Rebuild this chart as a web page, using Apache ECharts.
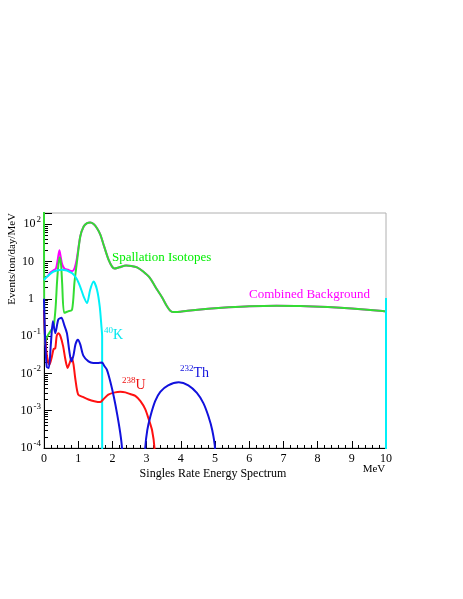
<!DOCTYPE html>
<html>
<head>
<meta charset="utf-8">
<script src="https://cdn.jsdelivr.net/npm/echarts@6/dist/echarts.min.js"></script>
<style>
html, body { margin: 0; padding: 0; background: #fff; }
#chart { width: 463px; height: 599px; }
</style>
</head>
<body>
<div id="chart"></div>
<script>
// energies in MeV, rates in events/ton/day/MeV
var spallE = [0, 0.02, 0.1, 0.2, 0.28, 0.34, 0.38, 0.42, 0.46, 0.5, 0.53, 0.59, 0.7, 0.82, 0.89, 0.96,
    1.06, 1.16, 1.26, 1.35, 1.45, 1.55, 1.65, 1.76, 1.89, 1.99, 2.06, 2.2, 2.4, 2.55, 2.72, 2.9, 3.1, 3.3,
    3.45, 3.6, 3.7, 3.8, 4.2, 4.8, 5.4, 6.0, 6.8, 7.5, 8.3, 9.0, 9.9, 10];
var spallV = [300, 0.06, 0.1, 0.14, 0.18, 0.6, 2.7, 8, 13, 8, 2.7, 0.42, 0.46, 0.51, 2.7, 9.2,
    47, 87, 107, 112, 102, 78, 52, 25, 11, 7.3, 6.5, 7.0, 7.8, 7.6, 7.0, 5.4, 3.6, 1.8,
    1.1, 0.62, 0.47, 0.44, 0.48, 0.54, 0.59, 0.63, 0.65, 0.64, 0.6, 0.55, 0.47, 0.46];

// combined background below 1.06 MeV, above that it follows the spallation curve
var comboLowE = [0, 0.1, 0.18, 0.28, 0.35, 0.4, 0.45, 0.49, 0.53, 0.6, 0.7, 0.82, 0.89, 0.96];
var comboLowV = [3.5, 4.0, 5.0, 5.8, 6.5, 11, 20, 13, 8.5, 6.4, 6.0, 5.5, 6.5, 12];

var kE = [0, 0.1, 0.28, 0.53, 0.82, 0.95, 1.06, 1.16, 1.26, 1.35, 1.45, 1.55, 1.63, 1.68, 1.70, 1.701, 9.99, 10, 10];
var kV = [3.2, 4.0, 5.4, 6.0, 4.9, 3.5, 2.1, 1.15, 0.77, 1.75, 2.9, 1.75, 0.62, 0.18, 0.1, 1e-5, null, 1e-5, 1.05];

var uE = [0, 0.03, 0.09, 0.16, 0.23, 0.28, 0.33, 0.37, 0.42, 0.48, 0.56, 0.62, 0.69, 0.74, 0.81, 0.86, 0.92,
    1.0, 1.15, 1.3, 1.47, 1.64, 1.73, 1.88, 2.08, 2.23, 2.38, 2.52, 2.67, 2.82, 2.96, 3.06, 3.16, 3.23, 3.26];
var uV = [0.5, 0.1, 0.028, 0.017, 0.028, 0.045, 0.047, 0.1, 0.12, 0.1, 0.053, 0.025, 0.014, 0.018, 0.026, 0.018, 0.0067,
    0.0027, 0.0023, 0.002, 0.0018, 0.0017, 0.002, 0.0027, 0.0031, 0.0032, 0.0031, 0.0028, 0.0025, 0.0018, 0.0011, 0.0006, 0.0003, 0.0001, 1e-5];

var thE = [0, 0.03, 0.08, 0.14, 0.2, 0.26, 0.33, 0.42, 0.51, 0.59, 0.67, 0.74, 0.8, 0.86, 0.92, 0.99, 1.06, 1.15,
    1.3, 1.44, 1.56, 1.70, 1.76, 1.84, 1.94, 2.04, 2.14, 2.23, 2.28, 2.31, 2.5,
    2.93, 2.96, 3.02, 3.11, 3.25, 3.4, 3.63, 3.94, 4.22, 4.47, 4.66, 4.81, 4.92, 5.0, 5.03];
var thV = [1.0, 0.1, 0.015, 0.014, 0.06, 0.25, 0.12, 0.28, 0.31, 0.2, 0.12, 0.04, 0.021, 0.03, 0.06, 0.08, 0.06, 0.03,
    0.021, 0.019, 0.019, 0.0195, 0.016, 0.0125, 0.006, 0.0024, 0.0008, 0.00025, 0.0001, 1e-5, null,
    1e-5, 0.0001, 0.0003, 0.0007, 0.0018, 0.0032, 0.0048, 0.0058, 0.0048, 0.003, 0.0016, 0.0007, 0.0003, 0.0001, 1e-5];

function pairs(e, v) {
    return e.map(function (x, i) { return [x, v[i]]; });
}

var comboE = comboLowE.concat(spallE.slice(16));
var comboV = comboLowV.concat(spallV.slice(16));

var serif = 'Liberation Serif';
var myChart = echarts.init(document.getElementById('chart'));

function curve(name, color, e, v) {
    return {
        name: name,
        type: 'line',
        data: pairs(e, v),
        showSymbol: false,
        symbol: 'none',
        smooth: 0.25,
        connectNulls: false,
        clip: true,
        lineStyle: { color: color, width: 2 },
        animation: false
    };
}

var option = {
    animation: false,
    grid: {
        left: 44, right: 77, top: 213, bottom: 151,
        show: true, borderColor: '#b0b0b0', borderWidth: 1
    },
    xAxis: {
        type: 'value',
        min: 0, max: 10, interval: 1,
        axisLine: { show: true, onZero: false, lineStyle: { color: '#000', width: 1 } },
        axisTick: { show: true, inside: true, length: 7, lineStyle: { color: '#000' } },
        minorTick: { show: true, splitNumber: 5, length: 3, lineStyle: { color: '#000' } },
        splitLine: { show: false },
        axisLabel: { color: '#000', fontFamily: serif, fontSize: 12, margin: 5 }
    },
    yAxis: {
        type: 'log',
        logBase: 10,
        min: 0.0001, max: 200,
        axisLine: { show: true, lineStyle: { color: '#000', width: 1 } },
        axisTick: { show: true, inside: true, length: 8, lineStyle: { color: '#000' } },
        minorTick: { show: true, splitNumber: 9, length: 4, lineStyle: { color: '#000' } },
        splitLine: { show: false },
        axisLabel: {
            showMaxLabel: false,
            margin: 3,
            color: '#000', fontFamily: serif, fontSize: 12,
            formatter: function (val) {
                var p = Math.round(Math.log(val) / Math.LN10);
                if (p === 0) return '1{pad|}';
                if (p === 1) return '10{pad|}';
                return '10{sup|' + p + '}';
            },
            rich: {
                sup: { fontSize: 9, fontFamily: serif, color: '#000', padding: [0, 0, 9, 1] },
                pad: { width: 7 }
            }
        }
    },
    graphic: [
        { type: 'text', x: 12, y: 213, rotation: Math.PI / 2,
          style: { text: 'Events/ton/day/MeV', fill: '#000', font: '11px ' + serif, align: 'right', verticalAlign: 'middle' } },
        { type: 'text', x: 213, y: 474,
          style: { text: 'Singles Rate Energy Spectrum', fill: '#000', font: '12px ' + serif, align: 'center', verticalAlign: 'middle' } },
        { type: 'text', x: 374, y: 469,
          style: { text: 'MeV', fill: '#000', font: '11px ' + serif, align: 'center', verticalAlign: 'middle' } },
        { type: 'text', x: 112, y: 258,
          style: { text: 'Spallation Isotopes', fill: '#00ee00', font: '13px ' + serif, align: 'left', verticalAlign: 'middle' } },
        { type: 'text', x: 249, y: 295,
          style: { text: 'Combined Background', fill: '#ff00ff', font: '13px ' + serif, align: 'left', verticalAlign: 'middle' } },
        { type: 'text', x: 104, y: 335,
          style: { text: '{s|40}{b|K}', align: 'left', verticalAlign: 'middle',
                   rich: { s: { fontSize: 9, fontFamily: serif, fill: '#00e8f0', padding: [0, 0, 9, 0] },
                           b: { fontSize: 14, fontFamily: serif, fill: '#00e8f0' } } } },
        { type: 'text', x: 122, y: 385,
          style: { text: '{s|238}{b|U}', align: 'left', verticalAlign: 'middle',
                   rich: { s: { fontSize: 9, fontFamily: serif, fill: '#ee1111', padding: [0, 0, 9, 0] },
                           b: { fontSize: 14, fontFamily: serif, fill: '#ee1111' } } } },
        { type: 'text', x: 180, y: 373,
          style: { text: '{s|232}{b|Th}', align: 'left', verticalAlign: 'middle',
                   rich: { s: { fontSize: 9, fontFamily: serif, fill: '#1111dd', padding: [0, 0, 9, 0] },
                           b: { fontSize: 14, fontFamily: serif, fill: '#1111dd' } } } }
    ],
    series: [
        curve('Combined Background', '#ff00ff', comboE, comboV),
        curve('Spallation Isotopes', '#33dd33', spallE, spallV),
        curve('40K', '#00f0f8', kE, kV),
        curve('238U', '#ff1111', uE, uV),
        curve('232Th', '#1111dd', thE, thV)
    ]
};

myChart.setOption(option);
</script>
</body>
</html>
